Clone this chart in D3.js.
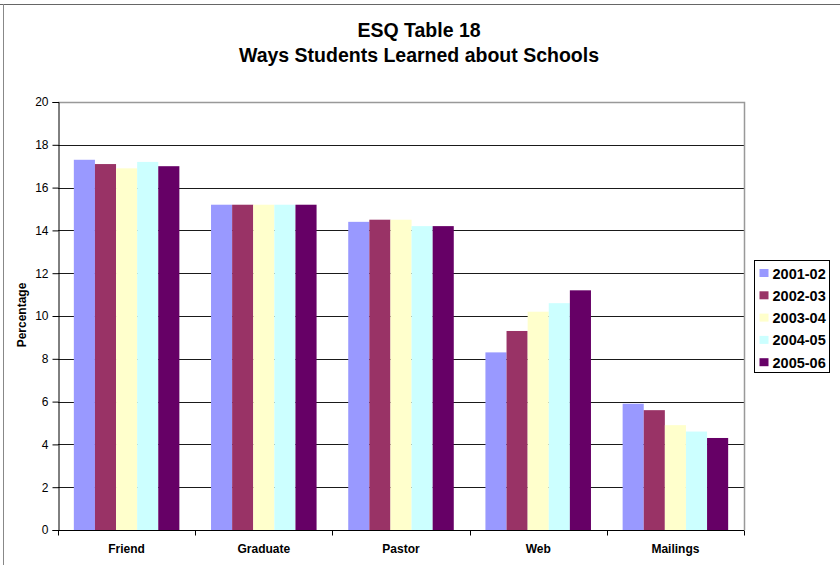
<!DOCTYPE html>
<html>
<head>
<meta charset="utf-8">
<script src="https://cdn.jsdelivr.net/npm/d3@7"></script>
<style>
  html, body { margin: 0; padding: 0; background: #fff; }
  svg { display: block; font-family: "Liberation Sans", Arial, sans-serif; }
</style>
</head>
<body>
<svg id="chart" width="840" height="565"></svg>
<script>
// Survey categories and yearly percentages
const categories = ["Friend", "Graduate", "Pastor", "Web", "Mailings"];
const seriesNames = ["2001-02", "2002-03", "2003-04", "2004-05", "2005-06"];
const v2001 = [17.3, 15.2, 14.4, 8.3, 5.9];
const v2002 = [17.1, 15.2, 14.5, 9.3, 5.6];
const v2003 = [16.9, 15.2, 14.5, 10.2, 4.9];
const v2004 = [17.2, 15.2, 14.2, 10.6, 4.6];
const v2005 = [17.0, 15.2, 14.2, 11.2, 4.3];
const yTicks = [0, 2, 4, 6, 8, 10, 12, 14, 16, 18, 20];
const colors = ["#9999FF", "#993366", "#FFFFCC", "#CCFFFF", "#660066"];

const seriesValues = [v2001, v2002, v2003, v2004, v2005];

const svg = d3.select("#chart");
const plotLeft = 58, plotRight = 744, plotTop = 102, plotBottom = 530;

// Chart frame (top and left edges)
svg.append("line").attr("x1", 0).attr("x2", 840).attr("y1", 4.5).attr("y2", 4.5)
  .attr("stroke", "#666").attr("stroke-width", 1);
svg.append("line").attr("x1", 3.5).attr("x2", 3.5).attr("y1", 4).attr("y2", 565)
  .attr("stroke", "#888").attr("stroke-width", 1);

// Title
const title = svg.append("text").attr("text-anchor", "middle")
  .attr("font-weight", "bold").attr("font-size", 19.5).attr("fill", "#000");
title.append("tspan").attr("x", 419).attr("y", 37).text("ESQ Table 18");
title.append("tspan").attr("x", 419).attr("y", 62).text("Ways Students Learned about Schools");

const x0 = d3.scaleBand().domain(categories).range([plotLeft, plotRight]).paddingInner(0).paddingOuter(0);
const groupW = x0.bandwidth();
const barW = groupW / 6.5;
const x1 = d3.scaleBand().domain(seriesNames)
  .range([0.75 * barW, 0.75 * barW + 5 * barW]).padding(0);
const y = d3.scaleLinear().domain([0, 20]).range([plotBottom, plotTop]);

// Gridlines
svg.append("g").selectAll("line").data(yTicks.filter(t => t > 0 && t < 20)).join("line")
  .attr("x1", plotLeft).attr("x2", plotRight)
  .attr("y1", d => Math.round(y(d)) + 0.5).attr("y2", d => Math.round(y(d)) + 0.5)
  .attr("stroke", "#1a1a1a").attr("stroke-width", 1);

// Plot area border (top and right)
svg.append("path")
  .attr("d", `M${plotLeft},${plotTop + 0.5}H${plotRight + 0.5}V${plotBottom}`)
  .attr("fill", "none").attr("stroke", "#999").attr("stroke-width", 1.5);

// Bars
const groups = svg.append("g").selectAll("g").data(seriesNames).join("g")
  .attr("fill", (d, i) => colors[i]);
groups.selectAll("rect").data((s, i) => categories.map((c, j) => ({ c, s, v: seriesValues[i][j] })))
  .join("rect")
  .attr("x", d => x0(d.c) + x1(d.s))
  .attr("width", x1.bandwidth())
  .attr("y", d => y(d.v))
  .attr("height", d => plotBottom - y(d.v));

// Y axis
const yAxis = svg.append("g").attr("transform", `translate(${plotLeft + 0.5},0)`)
  .call(d3.axisLeft(y).tickValues(yTicks).tickSize(6).tickPadding(4).tickFormat(d3.format("d")));
yAxis.select(".domain").attr("stroke", "#000");
yAxis.selectAll(".tick line").attr("stroke", "#000");
yAxis.selectAll("text").attr("font-size", 12).attr("fill", "#000")
  .attr("font-family", "Liberation Sans, Arial, sans-serif");

// X axis with ticks on category boundaries
const xAxisG = svg.append("g").attr("transform", `translate(0,${plotBottom + 0.5})`);
xAxisG.append("line").attr("x1", plotLeft).attr("x2", plotRight).attr("stroke", "#000");
const bounds = categories.map(c => x0(c)).concat([plotRight]);
xAxisG.selectAll("line.tk").data(bounds).join("line").attr("class", "tk")
  .attr("x1", d => Math.round(d) + 0.5).attr("x2", d => Math.round(d) + 0.5)
  .attr("y1", 0).attr("y2", 5).attr("stroke", "#000");
xAxisG.selectAll("text").data(categories).join("text")
  .attr("x", d => x0(d) + groupW / 2).attr("y", 22)
  .attr("text-anchor", "middle").attr("font-size", 12).attr("font-weight", "bold")
  .attr("fill", "#000").text(d => d);

// Y axis title
svg.append("text").attr("transform", "translate(25.5,315) rotate(-90)")
  .attr("text-anchor", "middle").attr("font-size", 12).attr("font-weight", "bold")
  .attr("fill", "#000").text("Percentage");

// Legend
const lg = svg.append("g").attr("transform", "translate(754.5,260.5)");
lg.append("rect").attr("width", 75).attr("height", 112)
  .attr("fill", "#fff").attr("stroke", "#000").attr("stroke-width", 1);
const items = lg.selectAll("g").data(seriesNames).join("g")
  .attr("transform", (d, i) => `translate(5,${12.5 + i * 22.3})`);
items.append("rect").attr("x", 0).attr("y", -4).attr("width", 9).attr("height", 8)
  .attr("fill", (d, i) => colors[i]);
items.append("text").attr("x", 13).attr("y", 5.5).attr("font-size", 14.5)
  .attr("font-weight", "bold").attr("fill", "#000").text(d => d);
</script>
</body>
</html>
